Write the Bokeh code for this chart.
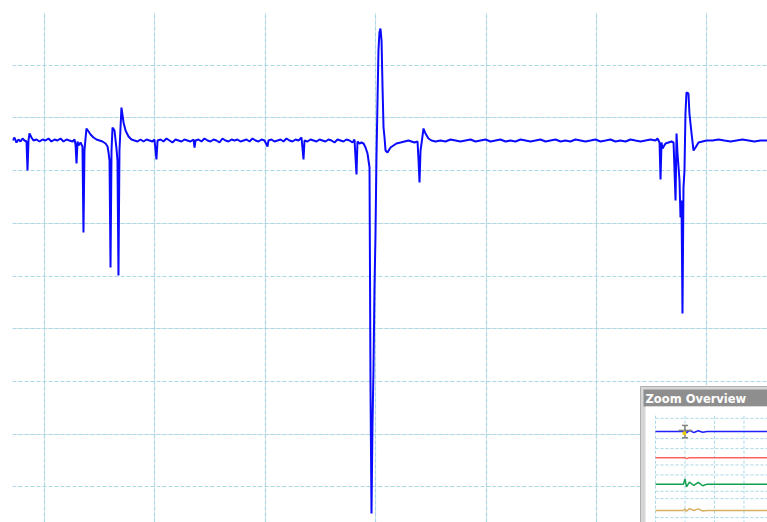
from bokeh.plotting import figure
from bokeh.models import Range1d, Grid, SingleIntervalTicker
from bokeh.core.properties import value
from bokeh.embed import file_html
from bokeh.resources import INLINE

# ---- main trace: time in ms (1 ms/div), amplitude in V (1 V/div) ----
time_ms = [
    -0.290, -0.272, -0.254, -0.236, -0.217, -0.199, -0.181, -0.163, -0.154, -0.145,
    -0.136, -0.118, -0.100, -0.072, -0.045, -0.018, 0.009, 0.036, 0.063, 0.091,
    0.118, 0.145, 0.172, 0.199, 0.226, 0.254, 0.272, 0.281, 0.290, 0.299,
    0.308, 0.326, 0.344, 0.353, 0.362, 0.380, 0.399, 0.417, 0.444, 0.471,
    0.498, 0.525, 0.553, 0.571, 0.580, 0.589, 0.598, 0.607, 0.616, 0.634,
    0.652, 0.661, 0.670, 0.679, 0.697, 0.716, 0.734, 0.761, 0.788, 0.815,
    0.842, 0.870, 0.897, 0.924, 0.951, 0.978, 0.996, 1.014, 1.024,
    1.051, 1.078, 1.105, 1.132, 1.159, 1.187, 1.214, 1.241, 1.268, 1.295,
    1.322, 1.350, 1.359, 1.368, 1.395, 1.422, 1.449, 1.476, 1.504, 1.531,
    1.558, 1.585, 1.612, 1.639, 1.667, 1.694, 1.721, 1.748, 1.775, 1.803,
    1.830, 1.857, 1.884, 1.911, 1.938, 1.966, 1.993, 2.020, 2.029, 2.056,
    2.083, 2.111, 2.138, 2.165, 2.192, 2.219, 2.246, 2.274, 2.301, 2.328,
    2.346, 2.355, 2.382, 2.409, 2.437, 2.464, 2.491, 2.518, 2.545, 2.572,
    2.600, 2.627, 2.654, 2.681, 2.708, 2.735, 2.763, 2.790, 2.808, 2.826,
    2.835, 2.853, 2.871, 2.890, 2.908, 2.926, 2.944, 2.953, 2.962, 2.971,
    2.980, 2.989, 2.998, 3.007, 3.016, 3.025, 3.034, 3.043, 3.053, 3.062,
    3.071, 3.080, 3.089, 3.107, 3.134, 3.161, 3.188, 3.225, 3.261, 3.297,
    3.324, 3.351, 3.379, 3.388, 3.397, 3.406, 3.415, 3.433, 3.451, 3.478,
    3.505, 3.542,
    3.587, 3.632, 3.678, 3.723, 3.768, 3.813, 3.859, 3.904, 3.949, 3.995,
    4.040, 4.085, 4.130, 4.176, 4.221, 4.266, 4.312, 4.357, 4.402, 4.447,
    4.493, 4.538, 4.583, 4.629, 4.674, 4.719, 4.764, 4.810, 4.855, 4.900,
    4.946, 4.991, 5.036, 5.082, 5.127, 5.172, 5.217, 5.263, 5.308, 5.353,
    5.399, 5.444, 5.489, 5.534, 5.553, 5.571, 5.580, 5.589, 5.598, 5.625,
    5.652, 5.679, 5.698, 5.716, 5.725, 5.734, 5.752, 5.761, 5.770, 5.779,
    5.788, 5.797, 5.806, 5.815, 5.833, 5.842, 5.861, 5.879, 5.897, 5.924,
    5.960, 5.997, 6.051, 6.105, 6.159, 6.214, 6.268, 6.322, 6.377, 6.431,
    6.485, 6.549,
]
volts = [
    -0.429, -0.372, -0.467, -0.410, -0.448, -0.391, -0.429, -0.448, -0.998, -0.429,
    -0.296, -0.372, -0.429, -0.410, -0.448, -0.410, -0.429, -0.391, -0.448, -0.410,
    -0.429, -0.391, -0.448, -0.410, -0.429, -0.448, -0.410, -0.505, -0.865, -0.448,
    -0.524, -0.467, -0.543, -2.175, -0.619, -0.201, -0.258, -0.315, -0.372, -0.410,
    -0.429, -0.448, -0.486, -0.543, -0.657, -0.808, -2.839, -0.619, -0.182, -0.239,
    -0.581, -0.808, -2.990, -0.619, 0.197, -0.087, -0.239, -0.353, -0.410, -0.429,
    -0.448, -0.410, -0.448, -0.410, -0.429, -0.448, -0.410, -0.789, -0.429,
    -0.410, -0.448, -0.391, -0.429, -0.467, -0.410, -0.429, -0.448, -0.410, -0.429,
    -0.448, -0.410, -0.562, -0.429, -0.410, -0.448, -0.391, -0.429, -0.448, -0.410,
    -0.429, -0.467, -0.391, -0.429, -0.448, -0.410, -0.429, -0.410, -0.448, -0.429,
    -0.410, -0.448, -0.391, -0.429, -0.448, -0.410, -0.429, -0.543, -0.429, -0.410,
    -0.448, -0.429, -0.410, -0.448, -0.391, -0.429, -0.448, -0.410, -0.429, -0.372,
    -0.789, -0.429, -0.448, -0.410, -0.429, -0.448, -0.410, -0.429, -0.448, -0.410,
    -0.429, -0.467, -0.410, -0.429, -0.448, -0.410, -0.429, -0.467, -0.410, -1.074,
    -0.448, -0.486, -0.467, -0.486, -0.562, -0.676, -0.941, -5.116, -7.507, -5.799,
    -4.793, -3.218, -2.231, -0.751, 0.273, 1.279, 1.620, 1.696, 1.469, 0.577,
    -0.182, -0.372, -0.619, -0.657, -0.562, -0.524, -0.486, -0.467, -0.448, -0.429,
    -0.448, -0.467, -0.448, -0.808, -1.226, -0.619, -0.486, -0.201, -0.296, -0.391,
    -0.429, -0.448,
    -0.429, -0.448, -0.410, -0.429, -0.448, -0.429, -0.410, -0.448, -0.429, -0.410,
    -0.448, -0.429, -0.410, -0.448, -0.429, -0.448, -0.410, -0.429, -0.448, -0.429,
    -0.410, -0.448, -0.429, -0.410, -0.448, -0.429, -0.448, -0.410, -0.429, -0.448,
    -0.429, -0.410, -0.448, -0.429, -0.410, -0.448, -0.429, -0.448, -0.410, -0.429,
    -0.448, -0.429, -0.410, -0.429, -0.391, -0.467, -1.169, -0.467, -0.581, -0.486,
    -0.467, -0.448, -0.467, -1.567, -0.296, -0.676, -1.188, -1.890, -1.567, -3.712,
    -1.321, -0.998, 0.083, 0.482, 0.463, 0.083, -0.296, -0.619, -0.562, -0.467,
    -0.448, -0.429, -0.429, -0.410, -0.429, -0.448, -0.429, -0.410, -0.429, -0.448,
    -0.429, -0.429,
]

# ---- zoom overview traces (overview time divisions, channel rows) ----
ov_time = [0.0, 0.95, 1.0, 1.05, 1.15, 1.3, 1.45, 1.6, 1.75, 3.8]
ov_blue = [3.0, 3.0, 3.05, 2.95, 3.04, 2.96, 3.03, 2.97, 3.0, 3.0]
ov_red = [2.0, 2.0, 2.0, 1.97, 2.0, 2.0, 2.0, 2.0, 2.0, 2.0]
ov_green = [1.0, 1.0, 1.2, 0.9, 1.08, 0.95, 1.07, 0.94, 1.0, 1.0]
ov_gold = [0.0, 0.0, 0.06, -0.03, 0.07, 0.0, 0.06, -0.02, 0.0, 0.0]
ov_colors = ["#2020ff", "#ff6060", "#10a050", "#d8b060"]
title_text = "Zoom Overview"

GRID = "#a9d8e6"

p = figure(width=767, height=522,
           x_range=Range1d(-0.2899, 6.549), y_range=Range1d(-7.677, 2.0),
           x_axis_location=None, y_axis_location=None,
           output_backend="svg", toolbar_location=None,
           min_border_left=12, min_border_top=12, min_border_right=0, min_border_bottom=0)
p.outline_line_color = None
p.background_fill_color = "white"
p.border_fill_color = "white"

p.add_layout(Grid(dimension=0, ticker=SingleIntervalTicker(interval=1),
                  grid_line_color=GRID, grid_line_dash="4 2", grid_line_width=1.2))
p.add_layout(Grid(dimension=1, ticker=SingleIntervalTicker(interval=1),
                  grid_line_color=GRID, grid_line_dash="4 2", grid_line_width=1.2))

p.line(time_ms, volts, line_color="#0a0aff", line_width=2.0)

# screen-space ranges for the overview panel chrome
p.extra_x_ranges = {"sx": Range1d(12, 767), "ix": Range1d(-21.797, 3.797)}
p.extra_y_ranges = {"sy": Range1d(522, 12), "iy": Range1d(-0.456, 18.913)}

p.quad(left=[640], right=[780], top=[386], bottom=[530], fill_color="#d6d6d6",
       line_color="#b0b0b0", x_range_name="sx", y_range_name="sy")
p.quad(left=[643], right=[780], top=[389], bottom=[406], fill_color="#8e8e8e",
       line_color=None, x_range_name="sx", y_range_name="sy")
p.quad(left=[645], right=[780], top=[406], bottom=[530], fill_color="white",
       line_color=None, x_range_name="sx", y_range_name="sy")
p.text(x=[645], y=[398], text=[title_text], text_font=value("DejaVu Sans"),
       text_font_style="bold", text_font_size="11.5px", text_color="white",
       text_baseline="middle", x_range_name="sx", y_range_name="sy")

# overview grid
for gx in [0, 1, 2, 3]:
    p.segment(x0=[gx], x1=[gx], y0=[-0.5], y1=[3.6], line_color=GRID,
              line_dash="3 2", x_range_name="ix", y_range_name="iy")
for gy in [-0.27, 0.45, 0.73, 1.35, 1.73, 2.35, 2.73, 3.5]:
    p.segment(x0=[0], x1=[4], y0=[gy], y1=[gy], line_color=GRID,
              line_dash="3 2", x_range_name="ix", y_range_name="iy")

for ys, c in zip([ov_blue, ov_red, ov_green, ov_gold], ov_colors):
    p.line(ov_time, ys, line_color=c, line_width=1.5, x_range_name="ix", y_range_name="iy")

# cursor marker on overview
p.segment(x0=[1.0, 0.9, 0.9, 0.78], x1=[1.0, 1.1, 1.1, 1.25],
          y0=[2.76, 3.23, 2.76, 3.04], y1=[3.23, 3.23, 2.76, 3.04],
          line_color="#808080", line_width=1.5, x_range_name="ix", y_range_name="iy")
p.scatter(x=[0.98], y=[2.93], size=4, fill_color="#e8d000", line_color=None,
          x_range_name="ix", y_range_name="iy")

open("out.html", "w").write(file_html(p, INLINE))
